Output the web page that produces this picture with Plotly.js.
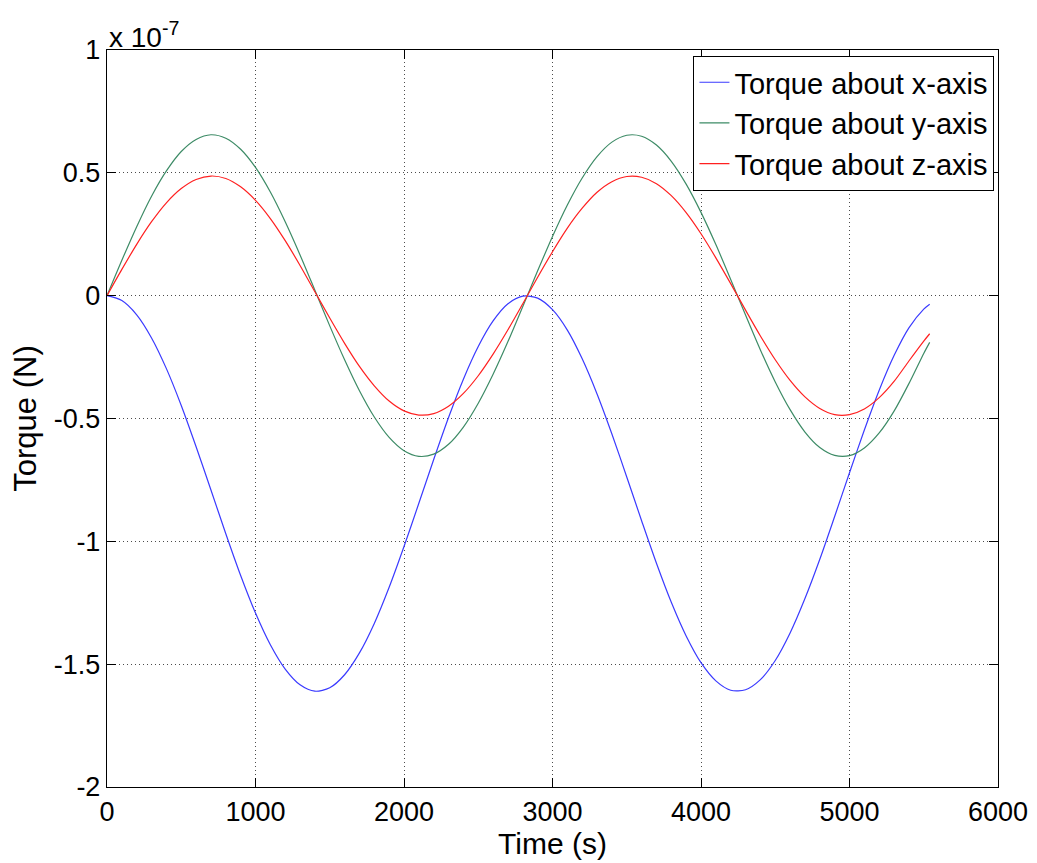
<!DOCTYPE html>
<html>
<head>
<meta charset="utf-8">
<script src="https://cdn.plot.ly/plotly-3.0.1.min.js"></script>
<style>html,body{margin:0;padding:0;background:#fff;}#chart{width:1037px;height:863px;}</style>
</head>
<body>
<div id="chart"></div>
<script>
// Time (s)
const time = [0,100,200,300,400,500,600,700,800,900,1000,1100,1200,1300,1400,1500,1600,1700,1800,1900,2000,2100,2200,2300,2400,2500,2600,2700,2800,2900,3000,3100,3200,3300,3400,3500,3600,3700,3800,3900,4000,4100,4200,4300,4400,4500,4600,4700,4800,4900,5000,5100,5200,5300,5400,5500,5540];
// Torque values in units of 1e-7 N
const torqueX = [0,-0.020,-0.078,-0.172,-0.297,-0.447,-0.615,-0.791,-0.969,-1.139,-1.292,-1.421,-1.520,-1.584,-1.610,-1.596,-1.543,-1.454,-1.334,-1.187,-1.021,-0.845,-0.667,-0.496,-0.340,-0.207,-0.103,-0.033,-0.002,-0.010,-0.057,-0.140,-0.257,-0.400,-0.563,-0.738,-0.916,-1.089,-1.248,-1.385,-1.494,-1.568,-1.606,-1.604,-1.563,-1.485,-1.373,-1.233,-1.073,-0.899,-0.721,-0.547,-0.385,-0.244,-0.131,-0.055,-0.035];
const torqueY = [0,0.144,0.281,0.405,0.508,0.587,0.636,0.655,0.641,0.596,0.522,0.422,0.301,0.166,0.022,-0.123,-0.261,-0.387,-0.494,-0.577,-0.631,-0.654,-0.645,-0.605,-0.535,-0.438,-0.320,-0.187,-0.044,0.101,0.241,0.369,0.479,0.566,0.625,0.653,0.649,0.613,0.547,0.454,0.339,0.208,0.066,-0.079,-0.221,-0.351,-0.464,-0.555,-0.618,-0.650,-0.651,-0.620,-0.559,-0.470,-0.358,-0.235,-0.190];
const torqueZ = [0,0.107,0.209,0.301,0.378,0.436,0.473,0.487,0.477,0.443,0.388,0.314,0.224,0.123,0.016,-0.091,-0.194,-0.288,-0.367,-0.429,-0.469,-0.486,-0.480,-0.450,-0.398,-0.326,-0.238,-0.139,-0.033,0.075,0.179,0.275,0.356,0.421,0.464,0.485,0.482,0.456,0.407,0.338,0.252,0.154,0.049,-0.059,-0.164,-0.261,-0.345,-0.412,-0.459,-0.484,-0.484,-0.461,-0.415,-0.349,-0.266,-0.185,-0.155];
const seriesNames = ['Torque about x-axis','Torque about y-axis','Torque about z-axis'];
const yTickVals = [1,0.5,0,-0.5,-1,-1.5,-2];
const yTickText = ['1','0.5','0','-0.5','-1','-1.5','-2'];
const xTickVals = [0,1000,2000,3000,4000,5000,6000];
const xTickText = ['0','1000','2000','3000','4000','5000','6000'];

const colors = ['#3a3aff','#3d8b66','#ff2020'];
const ys = [torqueX, torqueY, torqueZ];
const traces = ys.map((y,i)=>({
  x: time, y: y, type:'scatter', mode:'lines', name: seriesNames[i],
  line:{color:colors[i], width:1.2, shape:'spline', smoothing:0.8}
}));

const font = 'Liberation Sans, Arial, Helvetica, sans-serif';
const axisCommon = {
  showline:true, linecolor:'#000', linewidth:1.2, mirror:'ticks',
  ticks:'inside', ticklen:9, tickcolor:'#000', tickwidth:1,
  showgrid:true, gridcolor:'rgba(0,0,0,0.7)', griddash:'1px,3px', gridwidth:1,
  zeroline:false, tickfont:{family:font, size:27, color:'#000'}
};
const layout = {
  width:1037, height:863,
  margin:{l:107, r:39, t:50, b:76},
  paper_bgcolor:'#fff', plot_bgcolor:'#fff',
  showlegend:true,
  font:{family:font, color:'#000'},
  xaxis: Object.assign({}, axisCommon, {
    range:[0,6000], tickmode:'array', tickvals:xTickVals, ticktext:xTickText,
    title:{text:'Time (s)', font:{family:font, size:30, color:'#000'}, standoff:2}
  }),
  yaxis: Object.assign({}, axisCommon, {
    range:[-2,1], tickmode:'array', tickvals:yTickVals, ticktext:yTickText,
    title:{text:'Torque (N)', font:{family:font, size:31, color:'#000'}, standoff:8}
  }),
  legend:{
    x:0.996, xanchor:'right', y:0.992, yanchor:'top',
    bgcolor:'#fff', bordercolor:'#000', borderwidth:1,
    font:{family:font, size:29, color:'#000'},
    itemwidth:30, tracegroupgap:0
  },
  annotations:[{
    xref:'paper', yref:'paper', x:0, y:1, xanchor:'left', yanchor:'bottom',
    text:'x 10<sup>-7</sup>', showarrow:false,
    font:{family:font, size:28, color:'#000'}, yshift:-5
  }]
};
Plotly.newPlot('chart', traces, layout, {displayModeBar:false, staticPlot:true});
</script>
</body>
</html>
